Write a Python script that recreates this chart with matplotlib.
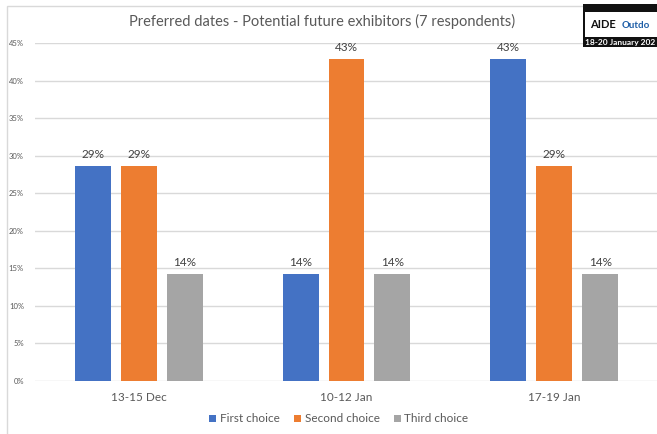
import matplotlib

matplotlib.use("Agg")
import matplotlib.pyplot as plt
import numpy as np
from matplotlib.patches import Rectangle

# data: share of 7 respondents picking each date slot
categories = ["13-15 Dec", "10-12 Jan", "17-19 Jan"]
series_names = ["First choice", "Second choice", "Third choice"]
first_choice = [2 / 7, 1 / 7, 3 / 7]
second_choice = [2 / 7, 3 / 7, 2 / 7]
third_choice = [1 / 7, 1 / 7, 1 / 7]
colors = ["#4472C4", "#ED7D31", "#A5A5A5"]
y_ticks = [0, 0.05, 0.10, 0.15, 0.20, 0.25, 0.30, 0.35, 0.40, 0.45]

W, H = 657, 434
plt.rcParams["font.family"] = ["Lato", "DejaVu Sans"]
fig = plt.figure(figsize=(W / 100, H / 100), dpi=100)
fig.patch.set_facecolor("white")

# chart area border (cropped on right and bottom)
fig.add_artist(Rectangle((7 / W, -0.1), 1.2, (H - 6) / H + 0.1, transform=fig.transFigure,
                         fill=False, edgecolor="#D9D9D9", linewidth=1.0))

ax = fig.add_axes([35 / W, (H - 381) / H, 623 / W, 338 / H])
x = np.arange(len(categories))
bar_w = 36 / 208
step = 46 / 208
for i, (vals, name, col) in enumerate(zip([first_choice, second_choice, third_choice], series_names, colors)):
    pos = x + (i - 1) * step
    bars = ax.bar(pos, vals, width=bar_w, color=col, label=name, zorder=3)
    for b, v in zip(bars, vals):
        ax.text(b.get_x() + b.get_width() / 2, v + 0.008, f"{v * 100:.0f}%",
                ha="center", va="bottom", fontsize=8.5, color="#404040")

ax.set_xlim(-0.5, 2.5)
ax.set_ylim(0, 0.45)
ax.set_yticks(y_ticks)
ax.set_yticklabels([f"{t * 100:.0f}%" for t in y_ticks], fontsize=5.5, color="#595959")
ax.set_xticks(x)
ax.set_xticklabels(categories, fontsize=8.5, color="#595959")
ax.tick_params(axis="both", length=0)
ax.tick_params(axis="y", pad=8)
ax.tick_params(axis="x", pad=8)
ax.grid(axis="y", color="#D9D9D9", linewidth=1.0, zorder=0)
for s in ax.spines.values():
    s.set_visible(False)

fig.text(322 / W, 1 - 21 / H, "Preferred dates - Potential future exhibitors (7 respondents)",
         ha="center", va="center", fontsize=10.5, color="#595959")

handles, labels = ax.get_legend_handles_labels()
fig.legend(handles, labels, loc="center", bbox_to_anchor=(339 / W, 1 - 419 / H), ncol=3,
           frameon=False, fontsize=8.5, labelcolor="#595959", handlelength=0.6,
           handleheight=0.6, handletextpad=0.3, columnspacing=1.2)

# event logo in the corner (approximation, cropped like the original)
fig.add_artist(Rectangle((583 / W, 1 - 47 / H), 80 / W, 43 / H, transform=fig.transFigure,
                         facecolor="#111111", edgecolor="none"))
fig.add_artist(Rectangle((585 / W, 1 - 37 / H), 80 / W, 25 / H, transform=fig.transFigure,
                         facecolor="white", edgecolor="none"))
fig.text(590 / W, 1 - 25 / H, "AIDE", fontsize=8, fontweight="bold", color="#111111",
         ha="left", va="center")
fig.text(622 / W, 1 - 26 / H, "Outdo", fontsize=7, fontweight="bold", color="#1F5FA8",
         ha="left", va="center")
fig.text(585 / W, 1 - 42.5 / H, "18-20 January 202", fontsize=6, fontweight="bold",
         color="white", ha="left", va="center")

fig.savefig("out.png", dpi=100, facecolor="white")
